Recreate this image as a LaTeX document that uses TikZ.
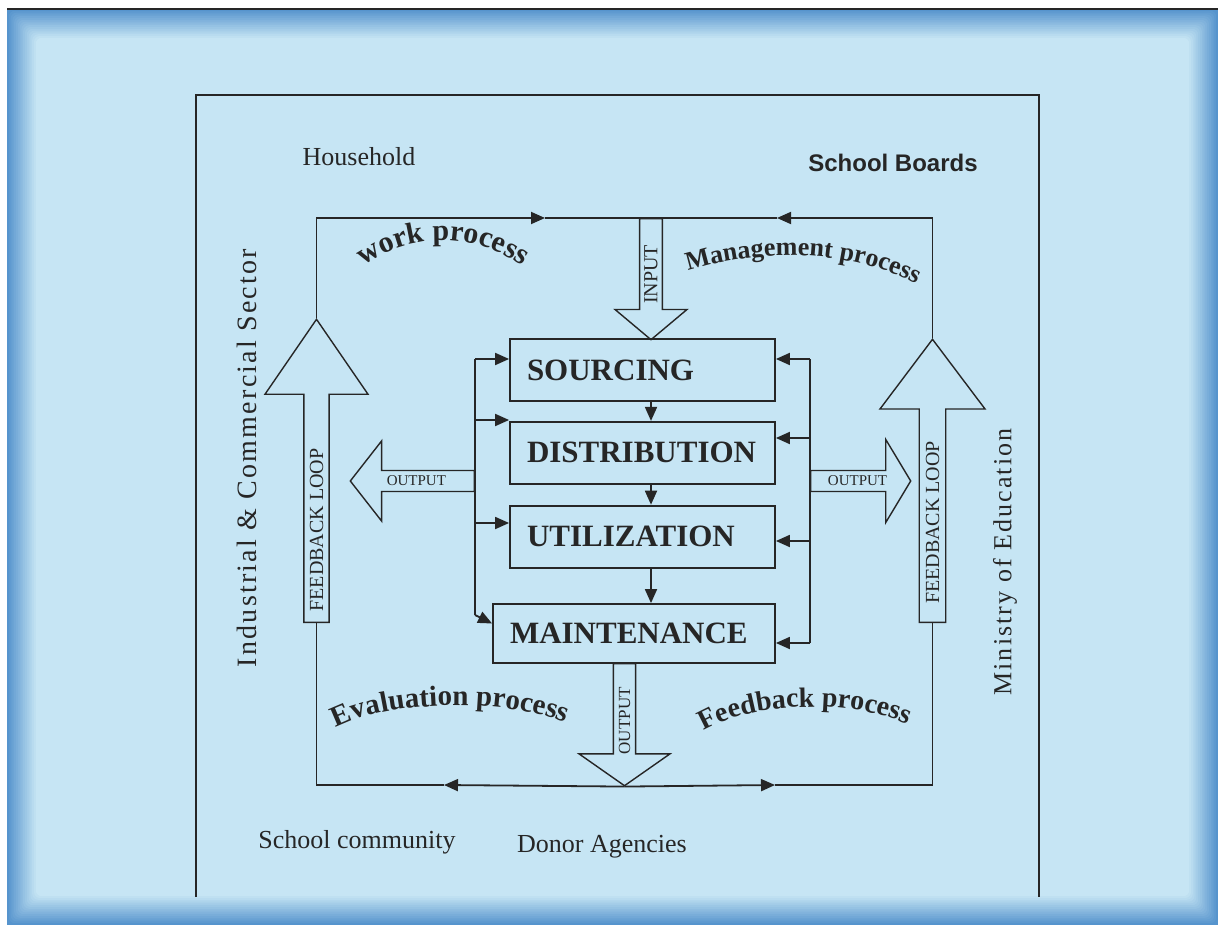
\documentclass[tikz,border=0pt]{standalone}
\usepackage{fontspec}
\setmainfont{Liberation Serif}
\newfontfamily\boardsfont{Liberation Sans}
\newfontfamily\sidefont{Liberation Serif}[LetterSpace=8]
\usetikzlibrary{arrows.meta,positioning,shapes.arrows,decorations.text}
\definecolor{paper}{RGB}{198,229,244}
\definecolor{rim}{RGB}{86,148,205}
\definecolor{ink}{RGB}{38,38,38}

\tikzset{
  loop/.style={draw=ink, line width=1.8pt},
  flow/.style={loop, arrows=-{Triangle[length=14pt,width=12pt]}},
  stage/.style={draw=ink, line width=1.8pt, minimum height=62pt, inner xsep=17pt,
                text width=231pt, align=left, text=ink,
                font=\fontsize{31}{31}\selectfont\bfseries},
  blockarrow/.style={single arrow, draw=ink, line width=1.4pt, inner sep=1pt, text=ink},
  curved/.style={decorate, decoration={text along path, text align=center}}
}

\begin{document}
\begin{tikzpicture}[x=1pt, y=-1pt]
  \useasboundingbox (0,0) rectangle (1218,925);
  % Page background with the darker rim
  \fill[white] (0,0) rectangle (1218,925);
  \fill[rim] (7,9) rectangle (1218,925);
  \foreach \i in {1,...,16} {
    \pgfmathsetmacro\shade{\i*100/16}
    \fill[paper!\shade!rim, rounded corners=6pt] ({7+1.8*\i},{9+1.8*\i}) rectangle ({1218-1.8*\i},{925-1.8*\i});
  }
  \draw[ink, line width=1.5pt] (7,9) -- (1218,9);

  % Outer frame
  \coordinate (frame sw) at (196,897);
  \coordinate (frame ne) at (1039,95);
  \coordinate (frame se) at (1039,897);
  \draw[draw=ink, line width=1.3pt] (frame sw) |- (frame ne) -- (frame se);

  % Stakeholder labels
  \node (household)[text=ink, font=\fontsize{26}{26}\selectfont] at (359,157) {Household};
  \node (boards)[text=ink, font=\boardsfont\bfseries\fontsize{24}{24}\selectfont] at (893,163) {School Boards};
  \node (industry)[rotate=90, text=ink, font=\sidefont\fontsize{28}{28}\selectfont] at (247,458) {Industrial \& Commercial Sector};
  \node (ministry)[rotate=90, text=ink, font=\sidefont\fontsize{26}{26}\selectfont] at (1005,562) {Ministry of Education};
  \node (community)[text=ink, font=\fontsize{26}{26}\selectfont] at (357,842) {School community};
  \node (donors)[text=ink, font=\fontsize{26}{26}\selectfont] at (602,847) {Donor Agencies};

  % Stage boxes
  \node (sourcing)[stage] at (642.5,370) {SOURCING};
  \node (distribution)[stage, below=19pt of sourcing] {DISTRIBUTION};
  \node (utilization)[stage, below=20pt of distribution] {UTILIZATION};
  \node (maintenance)[stage, text width=248pt, minimum height=59pt] at (634,633.5) {MAINTENANCE};

  % Block arrows
  \node (input)[blockarrow, rotate=-90, anchor=tail, minimum height=121pt, minimum width=72pt,
                single arrow head extend=18pt, single arrow tip angle=100,
                font=\fontsize{20}{20}\selectfont] at (651,218) {\rotatebox{180}{INPUT}};
  \node (outdown)[blockarrow, rotate=-90, anchor=tail, minimum height=122pt, minimum width=91pt,
                  single arrow head extend=23pt, single arrow tip angle=110,
                  font=\fontsize{17}{17}\selectfont] at (624.5,663) {\rotatebox{180}{OUTPUT}};
  \node (outleft)[blockarrow, rotate=180, anchor=tail, minimum height=124pt, minimum width=80pt,
                  single arrow head extend=19pt, single arrow tip angle=104,
                  font=\fontsize{15}{15}\selectfont] at (475,481) {\rotatebox{180}{OUTPUT}};
  \node (outright)[blockarrow, anchor=tail, minimum height=100pt, minimum width=83pt,
                   single arrow head extend=20pt, single arrow tip angle=118,
                   font=\fontsize{15}{15}\selectfont] at (810,481) {OUTPUT};
  \node (feedleft)[blockarrow, rotate=90, anchor=tail, minimum height=303pt, minimum width=103pt,
                   single arrow head extend=26pt, single arrow tip angle=69,
                   font=\fontsize{20}{20}\selectfont] at (316.5,623) {\makebox[0pt]{\kern-100pt FEEDBACK LOOP}};
  \node (feedright)[blockarrow, rotate=90, anchor=tail, minimum height=283pt, minimum width=105pt,
                    single arrow head extend=25pt, single arrow tip angle=74,
                    font=\fontsize{20}{20}\selectfont] at (932.5,623) {\makebox[0pt]{\kern-66pt FEEDBACK LOOP}};

  % Outer loop
  \coordinate (work tip) at (545,218);
  \coordinate (mgmt tip) at (777,218);
  \coordinate (eval tip) at (444,785);
  \coordinate (feed tip) at (775,785);
  \draw[flow] (feedleft.tip) |- (work tip);
  \draw[loop] (work tip) -- (input.tail);
  \draw[flow] (feedright.tip) |- (mgmt tip);
  \draw[loop] (mgmt tip) -- (input.tail);
  \draw[flow] (outdown.tip) -- (eval tip);
  \draw[loop] (eval tip) -| (feedleft.tail);
  \draw[flow] (outdown.tip) -- (feed tip);
  \draw[loop] (feed tip) -| (feedright.tail);

  % Buses into the stages
  \coordinate (lbus a) at (475,359);
  \coordinate (lbus b) at (475,420);
  \coordinate (lbus c) at (475,523);
  \coordinate (lbus d) at (475,615);
  \coordinate (rbus a) at (810,359);
  \coordinate (rbus b) at (810,438);
  \coordinate (rbus c) at (810,541);
  \coordinate (rbus d) at (810,643);
  \draw[loop] (lbus a) -- (lbus d);
  \draw[loop] (rbus a) -- (rbus d);
  \draw[flow] (lbus a) -- (lbus a -| sourcing.west);
  \draw[flow] (lbus b) -- (lbus b -| distribution.west);
  \draw[flow] (lbus c) -- (lbus c -| utilization.west);
  \draw[flow] (lbus d) -- ([yshift=10pt]maintenance.west);
  \draw[flow] (rbus a) -- (rbus a -| sourcing.east);
  \draw[flow] (rbus b) -- (rbus b -| distribution.east);
  \draw[flow] (rbus c) -- (rbus c -| utilization.east);
  \draw[flow] (rbus d) -- (rbus d -| maintenance.east);

  % Stage to stage
  \coordinate (col) at (651,0);
  \draw[flow] (sourcing.south -| col) -- (distribution.north -| col);
  \draw[flow] (distribution.south -| col) -- (utilization.north -| col);
  \draw[flow] (utilization.south -| col) -- (maintenance.north -| col);

  % Process names along arcs
  \path[curved, decoration={text={|\color{ink}\bfseries\fontsize{30}{30}\selectfont|work process}}]
    (348,278) .. controls (405,228) and (480,228) .. (538,278);
  \path[curved, decoration={text={|\color{ink}\bfseries\fontsize{26}{26}\selectfont|Management process}}]
    (684,272) .. controls (760,248) and (850,248) .. (920,286);
  \path[curved, decoration={text={|\color{ink}\bfseries\fontsize{29}{29}\selectfont|Evaluation process}}]
    (326,734) .. controls (375,698) and (520,696) .. (576,728);
  \path[curved, decoration={text={|\color{ink}\bfseries\fontsize{28}{28}\selectfont|Feedback process}}]
    (693,738) .. controls (740,700) and (860,696) .. (919,730);
\end{tikzpicture}
\end{document}
